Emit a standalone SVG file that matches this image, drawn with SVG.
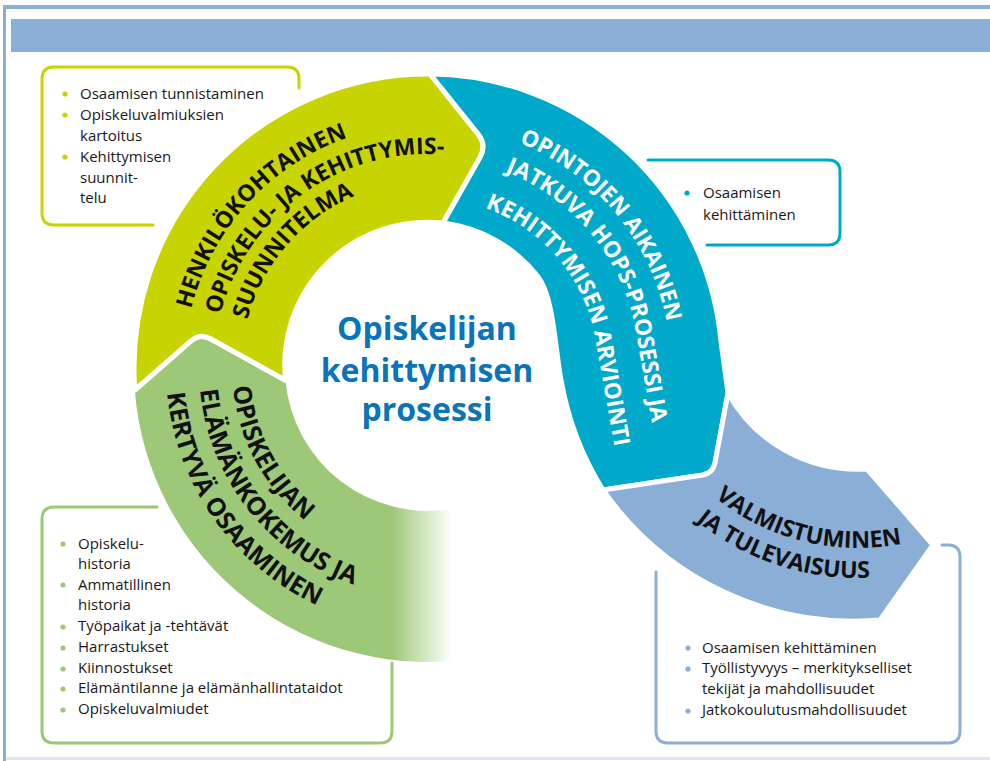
<svg xmlns="http://www.w3.org/2000/svg" width="990" height="761" viewBox="0 0 990 761">
<style>
.box{fill:none;stroke-width:3;stroke-linecap:round;stroke-linejoin:round}
.t{font-family:"Open Sans","Noto Sans",sans-serif;font-size:15px;fill:#1a1a1a}
.lbl{font-family:"Open Sans","Noto Sans",sans-serif;font-weight:bold}
.band{stroke:#fff;stroke-width:5;stroke-linejoin:round}
.title{font-family:"Open Sans","Noto Sans",sans-serif;font-weight:bold;font-size:32px;fill:#0a74bb;text-anchor:middle}
</style>
<defs>
<linearGradient id="fade" gradientUnits="userSpaceOnUse" x1="392" y1="0" x2="452" y2="0">
<stop offset="0" stop-color="#9dc877" stop-opacity="1"/>
<stop offset="1" stop-color="#9dc877" stop-opacity="0"/>
</linearGradient>
<path id="y1" d="M191.2,309 A244,244 0 0 1 470.4,127.7"/>
<path id="y2" d="M220.3,314.5 A214,214 0 0 1 465.2,157.3"/>
<path id="y3" d="M247.3,319.6 A187,187 0 0 1 460.6,183.8"/>
<path id="c1" d="M519,142.7 A243,243 0 0 1 670.1,346.8"/>
<path id="c2" d="M505.3,171.6 A211,211 0 0 1 635.8,331.4 L655,440"/>
<path id="c3" d="M485,207.9 A170,170 0 0 1 595.4,338.5 L618,466.5"/>
<path id="g1" d="M232.9,386.8 A196,196 0 0 0 394,561"/>
<path id="g2" d="M200.1,389.9 A229,229 0 0 0 408,596.1"/>
<path id="g3" d="M167.2,393.1 A262,262 0 0 0 405.2,629"/>
<path id="b1" d="M715.1,497.4 A227,227 0 0 0 971.5,517.6"/>
<path id="b2" d="M696.3,520.7 A257,257 0 0 0 986.5,543.6"/>
</defs>

<g id="frame">
<rect x="3" y="5" width="987" height="4" fill="#8aaed6"/>
<rect x="3" y="5" width="3" height="756" fill="#8aaed6"/>
<rect x="6" y="757" width="984" height="3" fill="#dde7f3"/>
<rect x="11" y="19" width="979" height="33" fill="#8aaed6"/>
</g>

<g id="box-yellow">
<path class="box" stroke="#c8d400" d="M153,225 H54 Q42,225 42,213 V79 Q42,67 54,67 H287 Q299,67 299,79 V88"/>
<g fill="#c8d400"><circle cx="65" cy="94" r="2.6"/><circle cx="65" cy="115" r="2.6"/><circle cx="65" cy="157" r="2.6"/></g>
<text class="t"><tspan x="80" y="99">Osaamisen tunnistaminen</tspan><tspan x="80" y="120">Opiskeluvalmiuksien</tspan><tspan x="80" y="141">kartoitus</tspan><tspan x="80" y="162">Kehittymisen</tspan><tspan x="80" y="183">suunnit-</tspan><tspan x="80" y="203">telu</tspan></text>
</g>

<g id="box-cyan">
<path class="box" stroke="#00a9c9" d="M648,160 H828 Q840,160 840,172 V233 Q840,245 828,245 H707"/>
<circle cx="687" cy="193" r="2.6" fill="#00a9c9"/>
<text class="t"><tspan x="703" y="198">Osaamisen</tspan><tspan x="703" y="220">kehittäminen</tspan></text>
</g>

<g id="box-green">
<path class="box" stroke="#9dc877" d="M157,507 H54 Q42,507 42,519 V731 Q42,743 54,743 H380 Q392,743 392,731 V663"/>
<g fill="#9dc877"><circle cx="63" cy="544" r="2.6"/><circle cx="63" cy="585" r="2.6"/><circle cx="63" cy="627" r="2.6"/><circle cx="63" cy="648" r="2.6"/><circle cx="63" cy="669" r="2.6"/><circle cx="63" cy="689" r="2.6"/><circle cx="63" cy="710" r="2.6"/></g>
<text class="t"><tspan x="78" y="549">Opiskelu-</tspan><tspan x="78" y="569">historia</tspan><tspan x="78" y="590">Ammatillinen</tspan><tspan x="78" y="610">historia</tspan><tspan x="78" y="631">Työpaikat ja -tehtävät</tspan><tspan x="78" y="652">Harrastukset</tspan><tspan x="78" y="673">Kiinnostukset</tspan><tspan x="78" y="693">Elämäntilanne ja elämänhallintataidot</tspan><tspan x="78" y="714">Opiskeluvalmiudet</tspan></text>
</g>

<g id="box-blue">
<path class="box" stroke="#8aaed6" d="M942,545 H948 Q960,545 960,557 V731 Q960,743 948,743 H668 Q656,743 656,731 V572"/>
<g fill="#8aaed6"><circle cx="688" cy="648" r="2.6"/><circle cx="688" cy="669" r="2.6"/><circle cx="688" cy="711" r="2.6"/></g>
<text class="t"><tspan x="702" y="653">Osaamisen kehittäminen</tspan><tspan x="702" y="673">Työllistyvyys – merkitykselliset</tspan><tspan x="702" y="694">tekijät ja mahdollisuudet</tspan><tspan x="702" y="715">Jatkokoulutusmahdollisuudet</tspan></text>
</g>

<g id="band-green">
<path fill="url(#fade)" d="M134.8,390 L191,340.9 Q200,333 210.5,338.8 L285.5,380.2 A143,143 0 0 0 452.8,508.8 L479,657.5 A294,294 0 0 1 134.8,390 Z"/>
<path fill="none" stroke="#fff" stroke-width="5" stroke-linejoin="round" d="M134.8,390 L191,340.9 Q200,333 210.5,338.8 L285.5,380.2"/>
<text class="lbl" fill="#111" font-size="25"><textPath href="#g1">OPISKELIJAN</textPath></text>
<text class="lbl" fill="#111" font-size="25"><textPath href="#g2">ELÄMÄNKOKEMUS JA</textPath></text>
<text class="lbl" fill="#111" font-size="25"><textPath href="#g3">KERTYVÄ OSAAMINEN</textPath></text>
</g>

<g id="band-yellow">
<path class="band" fill="#c8d400" d="M134.8,390 A294,294 0 0 1 430,74 L478.2,134.1 Q487,145 480.1,157.2 L443,223 A143,143 0 0 0 285.5,380.2 L210.5,338.8 Q200,333 191,340.9 Z"/>
<text class="lbl" fill="#111" font-size="23"><textPath href="#y1">HENKILÖKOHTAINEN</textPath></text>
<text class="lbl" fill="#111" font-size="23"><textPath href="#y2">OPISKELU- JA KEHITTYMIS-</textPath></text>
<text class="lbl" fill="#111" font-size="23"><textPath href="#y3">SUUNNITELMA</textPath></text>
</g>

<g id="band-cyan">
<path class="band" fill="#00a9c9" d="M430,74 A294,294 0 0 1 721,342 L728,393 L715,463 Q713,473 703,475 L603,490 A306,306 0 0 1 561,380 C555.2,350.6 553.6,295.2 537.5,276 A143,143 0 0 0 443,223 L480.1,157.2 Q487,145 478.2,134.1 Z"/>
<text class="lbl" fill="#fff" font-size="22.4"><textPath href="#c1">OPINTOJEN AIKAINEN</textPath></text>
<text class="lbl" fill="#fff" font-size="22.7"><textPath href="#c2">JATKUVA HOPS-PROSESSI JA</textPath></text>
<text class="lbl" fill="#fff" font-size="22.7"><textPath href="#c3">KEHITTYMISEN ARVIOINTI</textPath></text>
</g>

<g id="band-blue">
<path class="band" fill="#8aaed6" d="M728,393 A148,148 0 0 0 867,469 L933,545 L880,620 A306,306 0 0 1 603,490 L703,475 Q713,473 715,463 Z"/>
<text class="lbl" fill="#111" font-size="23.3"><textPath href="#b1">VALMISTUMINEN</textPath></text>
<text class="lbl" fill="#111" font-size="23.3"><textPath href="#b2">JA TULEVAISUUS</textPath></text>
</g>

<g id="title">
<text class="title" x="427" y="340">Opiskelijan</text>
<text class="title" x="427" y="382">kehittymisen</text>
<text class="title" x="427" y="421">prosessi</text>
</g>
</svg>
